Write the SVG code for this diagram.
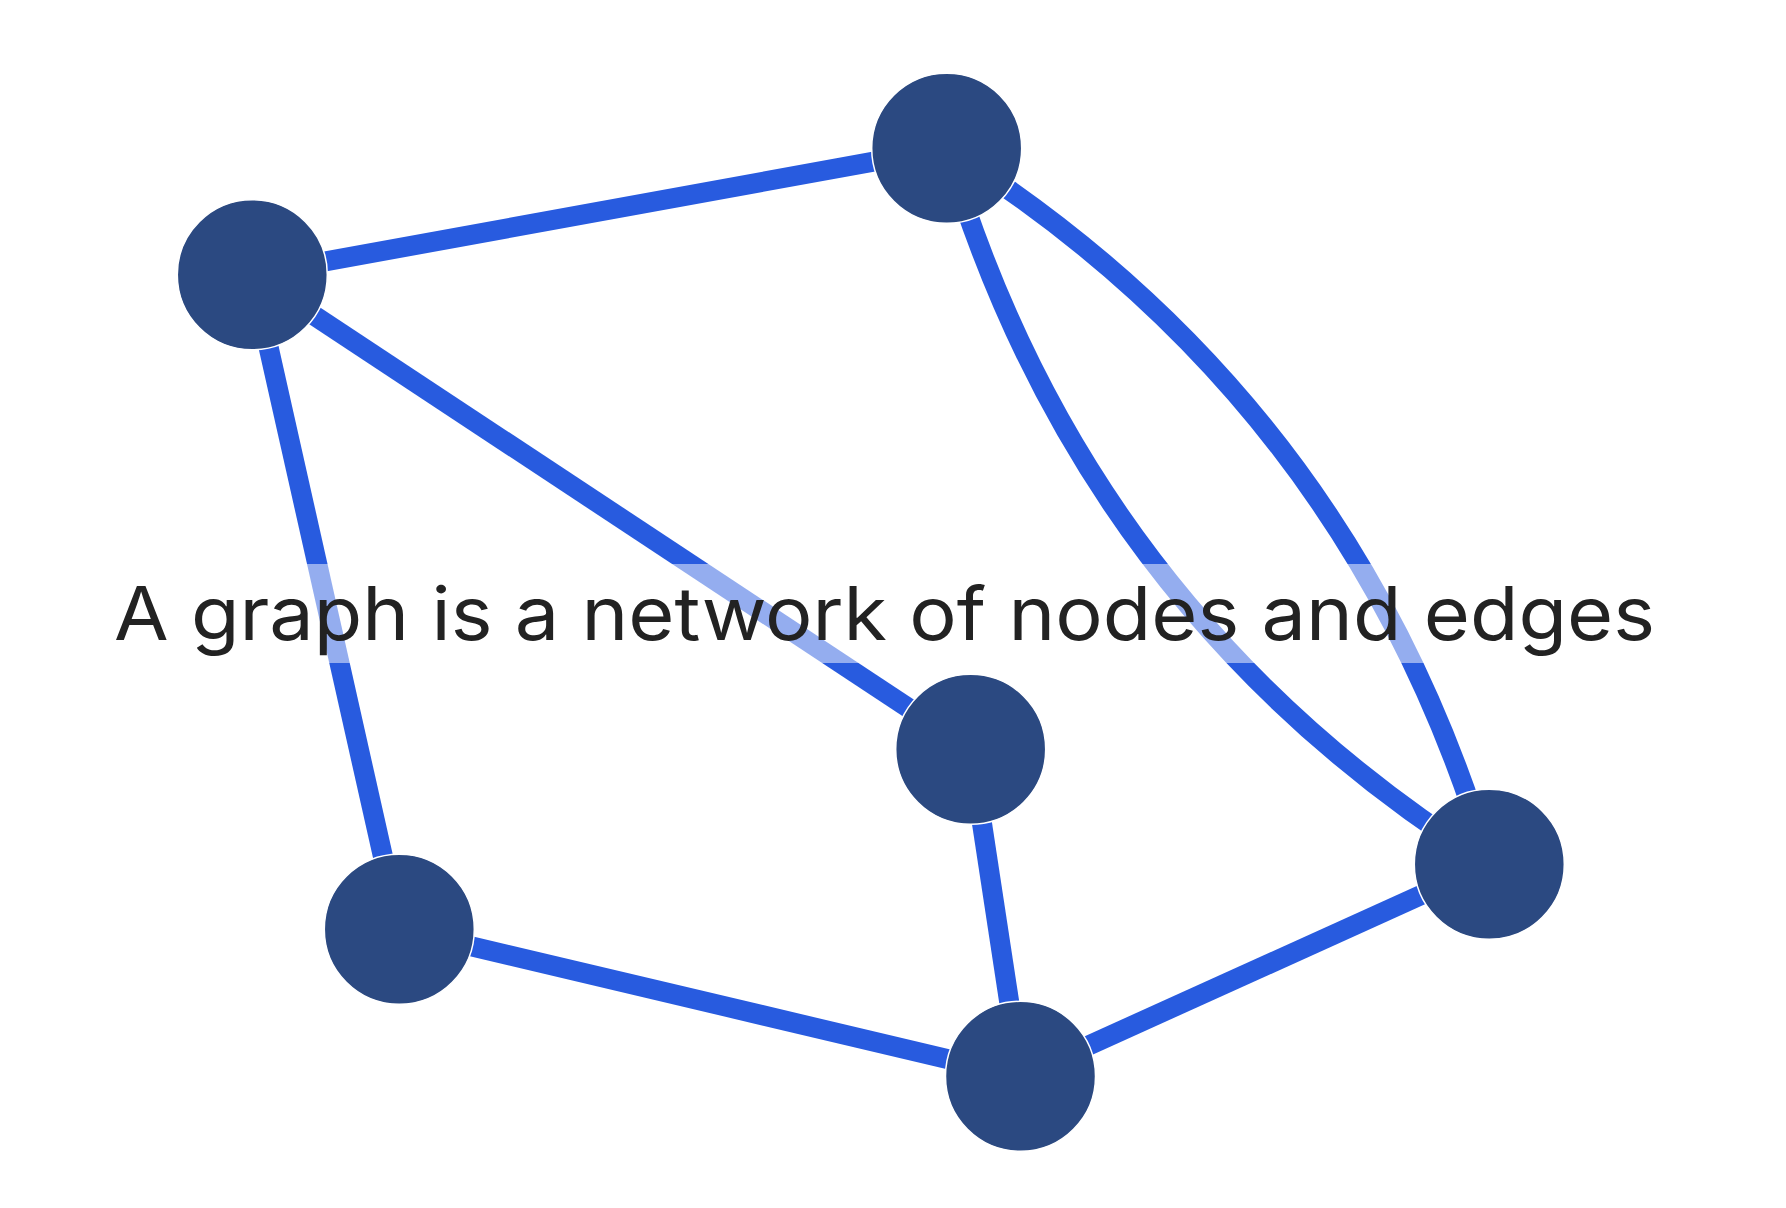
<svg xmlns="http://www.w3.org/2000/svg" width="1786" height="1208" viewBox="0 0 1786 1208">
  <style>
    .edge { fill: none; stroke: #285bdf; stroke-width: 20; stroke-linecap: butt; }
    .node { fill: #2b4981; stroke: #ffffff; stroke-width: 1.5; }
    .band { fill: #ffffff; fill-opacity: 0.5; }
    .label { font-family: Inter, "Noto Sans", "Liberation Sans", sans-serif; font-size: 74px; fill: #222222; }
  </style>
  <rect width="1786" height="1208" fill="#ffffff"/>
  <g id="connectors">
    <line class="edge" x1="252.3" y1="274.7" x2="946.7" y2="148.3"/>
    <line class="edge" x1="252.3" y1="274.7" x2="970.7" y2="749.2"/>
    <line class="edge" x1="252.3" y1="274.7" x2="399.3" y2="929.3"/>
    <path class="edge" d="M946.7,148.3 Q1353.5,403.6 1489.3,864.2"/>
    <path class="edge" d="M946.7,148.3 Q1082.5,609 1489.3,864.2"/>
    <line class="edge" x1="970.7" y1="749.2" x2="1020.5" y2="1076.3"/>
    <line class="edge" x1="399.3" y1="929.3" x2="1020.5" y2="1076.3"/>
    <line class="edge" x1="1020.5" y1="1076.3" x2="1489.3" y2="864.2"/>
  </g>
  <g id="label">
    <rect class="band" x="108" y="564" width="1556" height="99"/>
    <text class="label" x="114" y="640" textLength="1541" lengthAdjust="spacingAndGlyphs">A graph is a network of nodes and edges</text>
  </g>
  <g id="node1"><circle class="node" cx="946.7" cy="148.3" r="75"/></g>
  <g id="node2"><circle class="node" cx="252.3" cy="274.7" r="75"/></g>
  <g id="node3"><circle class="node" cx="970.7" cy="749.2" r="75"/></g>
  <g id="node4"><circle class="node" cx="399.3" cy="929.3" r="75"/></g>
  <g id="node5"><circle class="node" cx="1489.3" cy="864.2" r="75"/></g>
  <g id="node6"><circle class="node" cx="1020.5" cy="1076.3" r="75"/></g>
</svg>
